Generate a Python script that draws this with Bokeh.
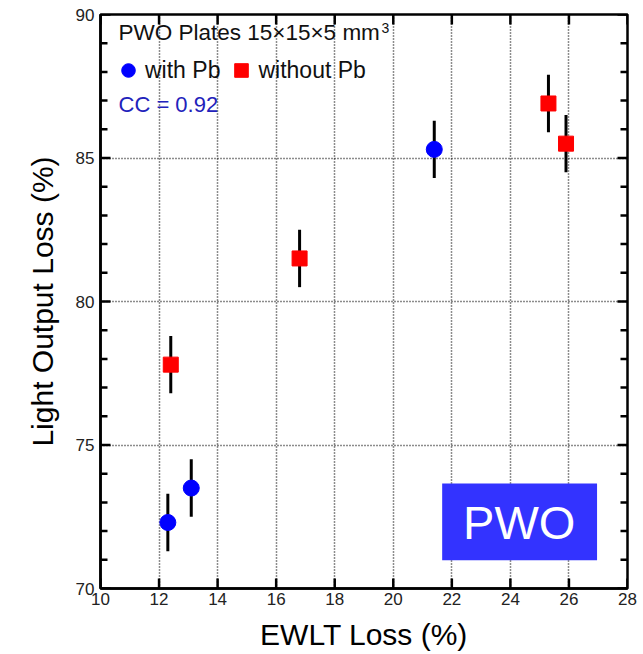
from bokeh.plotting import figure
from bokeh.models import (LinearAxis, Label, Legend, LegendItem, BoxAnnotation,
                          SingleIntervalTicker, ColumnDataSource, Range1d)
from bokeh.embed import file_html
from bokeh.resources import INLINE

# data
pb_x = [12.3, 13.1, 21.4]
pb_y = [72.3, 73.5, 85.3]
pb_err = [1.0, 1.0, 1.0]
nopb_x = [12.4, 16.8, 25.3, 25.9]
nopb_y = [77.8, 81.5, 86.9, 85.5]
nopb_err = [1.0, 1.0, 1.0, 1.0]
x_ticks = [10, 12, 14, 16, 18, 20, 22, 24, 26, 28]
y_ticks = [70, 75, 80, 85, 90]
y_minor = [v for v in range(70, 91) if v not in y_ticks]

FONT = "Liberation Sans"
X0, X1, Y0, Y1 = 10, 28, 70, 90
W, H = 643, 654
BL, BR, BT, BB = 100, 16, 14, 66
FW, FH = W - BL - BR, H - BT - BB

p = figure(width=W, height=H, output_backend="svg", toolbar_location=None,
           x_range=Range1d(X0, X1), y_range=Range1d(Y0, Y1),
           min_border_left=BL, min_border_right=BR, min_border_top=BT,
           min_border_bottom=BB, x_axis_location=None, y_axis_location=None)
p.background_fill_color = "white"
p.border_fill_color = "white"
p.outline_line_color = "black"
p.outline_line_width = 2.5

def style_axis(ax, ticks):
    ax.ticker = SingleIntervalTicker(interval=ticks, num_minor_ticks=0)
    ax.major_tick_in = 0
    ax.major_tick_out = 0
    ax.minor_tick_in = 0
    ax.minor_tick_out = 0
    ax.axis_line_color = "black"
    ax.axis_line_width = 2.5
    ax.major_label_text_font = FONT
    ax.major_label_text_font_size = "17px"
    ax.major_label_text_color = "#222222"

xb = LinearAxis(axis_label="EWLT Loss (%)")
style_axis(xb, 2)
xb.axis_label_text_font = FONT
xb.axis_label_text_font_size = "30px"
xb.axis_label_text_font_style = "normal"
xb.axis_label_text_color = "black"
xb.axis_label_standoff = 10
xb.major_label_standoff = 4
p.add_layout(xb, "below")

yl = LinearAxis(axis_label="Light Output Loss (%)")
style_axis(yl, 5)
yl.axis_label_text_font = FONT
yl.axis_label_text_font_size = "30px"
yl.axis_label_text_font_style = "normal"
yl.axis_label_text_color = "black"
yl.axis_label_standoff = 14
yl.major_label_standoff = 6
p.add_layout(yl, "left")

p.xgrid.ticker = SingleIntervalTicker(interval=2)
p.ygrid.ticker = SingleIntervalTicker(interval=5)
for g in (p.xgrid, p.ygrid):
    g.grid_line_color = "black"
    g.grid_line_dash = "1 2"
    g.grid_line_width = 1.5
    g.grid_line_alpha = 0.9

# inward ticks on all four sides (lengths given in pixels, converted to data units)
MAJ, MIN = 10, 7
ticks_src = ColumnDataSource(dict(
    x0=[X0] * len(y_minor) + [X1] * len(y_minor)
       + [X0] * len(y_ticks) + [X1] * len(y_ticks)
       + x_ticks + x_ticks,
    y0=y_minor + y_minor + y_ticks + y_ticks
       + [Y0] * len(x_ticks) + [Y1] * len(x_ticks),
    x1=[X0 + MIN * (X1 - X0) / FW] * len(y_minor) + [X1 - MIN * (X1 - X0) / FW] * len(y_minor)
       + [X0 + MAJ * (X1 - X0) / FW] * len(y_ticks) + [X1 - MAJ * (X1 - X0) / FW] * len(y_ticks)
       + x_ticks + x_ticks,
    y1=y_minor + y_minor + y_ticks + y_ticks
       + [Y0 + MAJ * (Y1 - Y0) / FH] * len(x_ticks) + [Y1 - MAJ * (Y1 - Y0) / FH] * len(x_ticks),
))
p.segment(x0="x0", y0="y0", x1="x1", y1="y1", source=ticks_src,
          line_color="black", line_width=2.5)

# error bars
pb_src = ColumnDataSource(dict(x=pb_x, y=pb_y,
                               lo=[y - e for y, e in zip(pb_y, pb_err)],
                               hi=[y + e for y, e in zip(pb_y, pb_err)]))
nopb_src = ColumnDataSource(dict(x=nopb_x, y=nopb_y,
                                 lo=[y - e for y, e in zip(nopb_y, nopb_err)],
                                 hi=[y + e for y, e in zip(nopb_y, nopb_err)]))
p.segment(x0="x", y0="lo", x1="x", y1="hi", source=pb_src, line_color="black", line_width=3)
p.segment(x0="x", y0="lo", x1="x", y1="hi", source=nopb_src, line_color="black", line_width=3)

r_pb = p.scatter(x="x", y="y", source=pb_src, marker="circle", size=16,
                 fill_color="#0000FF", line_color="#0000FF")
r_nopb = p.scatter(x="x", y="y", source=nopb_src, marker="square", size=15,
                   fill_color="#FF0000", line_color="#FF0000")

legend = Legend(items=[LegendItem(label="with Pb", renderers=[r_pb]),
                       LegendItem(label="without Pb", renderers=[r_nopb])],
                orientation="horizontal", location=(9, 499),
                label_text_font=FONT, label_text_font_size="23px",
                label_text_color="#111111",
                glyph_width=34, glyph_height=34, spacing=4,
                label_standoff=0, padding=2, margin=0,
                border_line_alpha=0, background_fill_alpha=0)
p.add_layout(legend, "center")

p.add_layout(Label(x=18, y=544, x_units="screen", y_units="screen",
                   text="PWO Plates 15×15×5 mm", text_font=FONT,
                   text_font_size="22.5px", text_color="#111111"))
p.add_layout(Label(x=281, y=556, x_units="screen", y_units="screen",
                   text="3", text_font=FONT,
                   text_font_size="14px", text_color="#111111"))
p.add_layout(Label(x=18, y=472, x_units="screen", y_units="screen",
                   text="CC = 0.92", text_font=FONT,
                   text_font_size="22px", text_color="#2222BB"))

p.add_layout(BoxAnnotation(left=21.67, right=26.96, bottom=70.98, top=73.66,
                           fill_color="#3333FF", fill_alpha=1, line_alpha=0))
p.add_layout(Label(x=24.3, y=72.3, text="PWO", text_font=FONT,
                   text_font_size="47px", text_color="white",
                   text_align="center", text_baseline="middle"))

open("out.html", "w").write(file_html(p, INLINE))
